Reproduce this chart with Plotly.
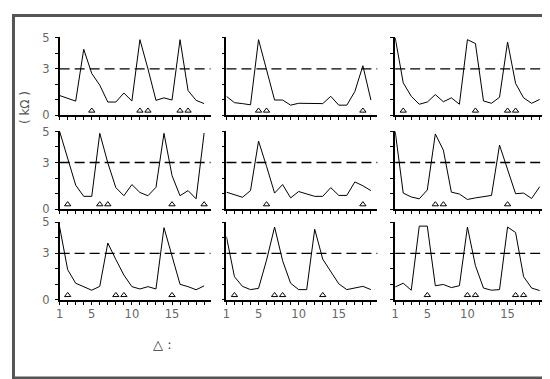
import plotly.graph_objects as go

# ---------------- data ----------------
x_vals = list(range(1, 20))

r1c1 = [1.28, 1.10, 0.92, 4.26, 2.70, 1.95, 0.86, 0.86, 1.44, 0.93, 4.88, 3.00, 0.97, 1.13, 0.99, 4.88, 1.60, 0.97, 0.76]
r1c2 = [1.23, 0.82, 0.76, 0.68, 4.88, 2.95, 0.99, 0.99, 0.66, 0.78, 0.78, 0.76, 0.76, 1.23, 0.66, 0.66, 1.54, 3.20, 0.99]
r1c3 = [5.00, 2.10, 1.23, 0.72, 0.86, 1.34, 0.88, 1.13, 0.72, 4.88, 4.63, 0.93, 0.78, 1.17, 4.73, 2.06, 1.13, 0.78, 1.03]
r2c1 = [5.00, 3.20, 1.54, 0.82, 0.82, 4.88, 2.98, 1.38, 0.86, 1.58, 1.07, 0.86, 1.40, 4.88, 2.16, 0.86, 1.19, 0.66, 4.90]
r2c2 = [1.09, 0.93, 0.76, 1.19, 4.38, 2.75, 1.03, 1.58, 0.72, 1.13, 0.97, 0.82, 0.82, 1.38, 0.88, 0.88, 1.75, 1.50, 1.19]
r2c3 = [5.00, 1.03, 0.78, 0.66, 1.23, 4.84, 3.80, 1.09, 0.97, 0.62, 0.72, 0.78, 0.88, 4.12, 2.60, 0.99, 1.03, 0.68, 1.44]
r3c1 = [4.69, 1.94, 1.07, 0.83, 0.62, 0.87, 3.66, 2.60, 1.60, 0.85, 0.70, 0.85, 0.70, 4.65, 2.80, 1.00, 0.85, 0.65, 0.90]
r3c2 = [4.07, 1.49, 0.87, 0.66, 0.74, 2.56, 4.69, 2.52, 1.07, 0.66, 0.66, 4.55, 2.62, 1.86, 1.03, 0.66, 0.76, 0.87, 0.66]
r3c3 = [0.83, 1.07, 0.62, 4.75, 4.75, 0.91, 0.99, 0.79, 0.91, 4.69, 2.20, 0.76, 0.62, 0.66, 4.69, 4.34, 1.49, 0.76, 0.60]

m_r1c1 = [5, 11, 12, 16, 17]
m_r1c2 = [5, 6, 18]
m_r1c3 = [2, 11, 15, 16]
m_r2c1 = [2, 6, 7, 15, 19]
m_r2c2 = [6, 18]
m_r2c3 = [6, 7, 15]
m_r3c1 = [2, 8, 9, 15]
m_r3c2 = [2, 7, 8, 13]
m_r3c3 = [5, 10, 11, 16, 17]

threshold = 3
marker_level = 0.3

x_tickvals = list(range(1, 20))
x_ticktext = ["1", "", "", "", "5", "", "", "", "", "10", "", "", "", "", "15", "", "", "", ""]
y_tickvals = [0, 1, 2, 3, 4, 5]
y_ticktext = ["0", "", "", "3", "", "5"]

y_title = "( kΩ )"
legend_text = "△ :"

# ---------------- layout geometry ----------------
W, H = 550, 379
col_px = [(48, 200), (216, 368), (386, 538)]
row_px = [(24, 105), (121, 202), (215, 296)]

panels = [
    [(r1c1, m_r1c1), (r1c2, m_r1c2), (r1c3, m_r1c3)],
    [(r2c1, m_r2c1), (r2c2, m_r2c2), (r2c3, m_r2c3)],
    [(r3c1, m_r3c1), (r3c2, m_r3c2), (r3c3, m_r3c3)],
]

fig = go.Figure()
layout = dict(
    width=W, height=H,
    margin=dict(l=0, r=0, t=0, b=0),
    paper_bgcolor="white", plot_bgcolor="white",
    showlegend=False,
    font=dict(family="DejaVu Sans", size=11, color="#666666"),
    shapes=[], annotations=[],
)

tick_font = dict(family="DejaVu Sans", size=11.5, color="#666666")

for r in range(3):
    for c in range(3):
        k = r * 3 + c + 1
        xs = "" if k == 1 else str(k)
        vals, marks = panels[r][c]
        fig.add_trace(go.Scatter(
            x=x_vals, y=vals, mode="lines",
            line=dict(color="black", width=1),
            xaxis="x" + xs, yaxis="y" + xs, hoverinfo="skip",
        ))
        fig.add_trace(go.Scatter(
            x=marks, y=[marker_level] * len(marks), mode="markers",
            marker=dict(symbol="triangle-up-open", size=5.5, color="black",
                        line=dict(width=1, color="black")),
            xaxis="x" + xs, yaxis="y" + xs, hoverinfo="skip", cliponaxis=False,
        ))
        x0, x1 = col_px[c]
        y0, y1 = row_px[r]
        layout["xaxis" + xs] = dict(
            domain=[x0 / W, x1 / W], anchor="y" + xs,
            range=[1, 19.8], showline=True, linecolor="black", linewidth=1.5,
            ticks="outside", ticklen=3, tickwidth=1, tickcolor="black",
            tickvals=x_tickvals,
            ticktext=x_ticktext if r == 2 else [""] * len(x_tickvals),
            showgrid=False, zeroline=False, tickfont=tick_font, fixedrange=True,
        )
        layout["yaxis" + xs] = dict(
            domain=[1 - y1 / H, 1 - y0 / H], anchor="x" + xs,
            range=[0, 5.04], showline=True, linecolor="black", linewidth=1.5,
            ticks="outside", ticklen=3, tickwidth=1, tickcolor="black",
            tickvals=y_tickvals,
            ticktext=y_ticktext if c == 0 else [""] * len(y_tickvals),
            ticklabelstandoff=3,
            showgrid=False, zeroline=False, tickfont=tick_font, fixedrange=True,
        )
        layout["shapes"].append(dict(
            type="line", xref="x" + xs + " domain", yref="y" + xs,
            x0=0, x1=1, y0=threshold, y1=threshold,
            line=dict(color="black", width=1.3, dash="10px,5px"), layer="below",
        ))

# outer frame
layout["shapes"].append(dict(
    type="rect", xref="paper", yref="paper",
    x0=1.5 / W, x1=548 / W, y0=1 - 377 / H, y1=1 - 1.5 / H,
    line=dict(color="#555555", width=3), fillcolor="rgba(0,0,0,0)",
))

layout["annotations"].append(dict(
    text=y_title, xref="paper", yref="paper", x=12.5 / W, y=1 - 97 / H,
    xanchor="center", yanchor="middle",
    showarrow=False, textangle=-90,
    font=dict(family="DejaVu Sans", size=12, color="#555555"),
))
layout["annotations"].append(dict(
    text=legend_text, xref="paper", yref="paper", x=152 / W, y=1 - 342 / H,
    xanchor="center", yanchor="middle", showarrow=False,
    font=dict(family="DejaVu Sans", size=13, color="#333333"),
))

fig.update_layout(**layout)
fig.write_html("out.html")
